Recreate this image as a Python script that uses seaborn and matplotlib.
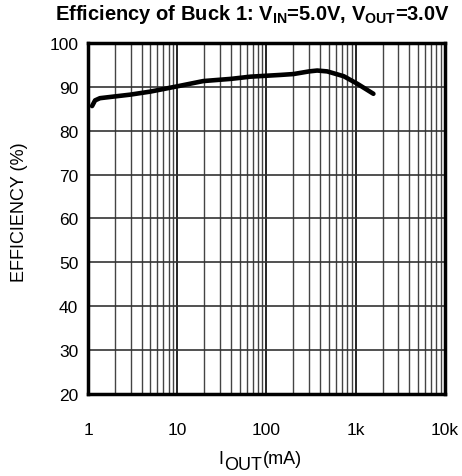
import numpy as np
import pandas as pd
import seaborn as sns
import matplotlib.pyplot as plt
from matplotlib.ticker import LogLocator, NullFormatter

# efficiency curve
iout = [1.11, 1.2, 1.36, 2.0, 2.96, 5.0, 10, 19.6, 40, 66, 144, 201, 300, 370, 480, 735, 1040, 1580]
eff = [85.6, 86.9, 87.4, 87.8, 88.2, 88.9, 90.1, 91.3, 91.8, 92.3, 92.7, 92.9, 93.5, 93.7, 93.5, 92.4, 90.7, 88.4]
xticks = [1, 10, 100, 1000, 10000]
xticklabels = ['1', '10', '100', '1k', '10k']
yticks = list(range(20, 101, 10))

df = pd.DataFrame({'iout': iout, 'eff': eff})

sns.set_style("white")
plt.rcParams['font.family'] = ['Liberation Sans', 'DejaVu Sans']
plt.rcParams['mathtext.fontset'] = 'custom'
plt.rcParams['mathtext.rm'] = 'Liberation Sans'
plt.rcParams['mathtext.bf'] = 'Liberation Sans:bold'
for k in ['text.color', 'axes.labelcolor', 'xtick.color', 'ytick.color']:
    plt.rcParams[k] = 'black'

fig = plt.figure(figsize=(4.62, 4.77), dpi=100)
ax = fig.add_axes([0.1905, 0.172, 0.7725, 0.736])

sns.lineplot(data=df, x='iout', y='eff', color='black', linewidth=3.3, ax=ax)
ax.set_xscale('log')
ax.set_xlim(1, 10000)
ax.set_ylim(20, 100)

ax.set_xticks(xticks)
ax.set_xticklabels(xticklabels)
ax.xaxis.set_minor_locator(LogLocator(base=10, subs=np.arange(2, 10)))
ax.xaxis.set_minor_formatter(NullFormatter())
ax.set_yticks(yticks)

ax.grid(which='major', axis='x', color='black', linewidth=1.2)
ax.grid(which='major', axis='y', color='#333333', linewidth=1.2)
ax.grid(which='minor', axis='x', color='#444444', linewidth=1)
ax.tick_params(which='both', length=0, labelsize=12.5)
ax.tick_params(axis='x', pad=20)
ax.tick_params(axis='y', pad=7)

for s in ax.spines.values():
    s.set_linewidth(2.5)
    s.set_color('black')

ax.set_xlabel('')
ax.set_ylabel('EFFICIENCY (%)', fontsize=13)
ax.yaxis.set_label_coords(-0.168, 0.52)

# x label: I, OUT dropped but same size, then (mA)
fig.text(218 / 462, 1 - 464 / 477, 'I', fontsize=13, va='baseline', ha='left')
fig.text(224 / 462, 1 - 470 / 477, 'OUT', fontsize=13, va='baseline', ha='left')
fig.text(263 / 462, 1 - 464 / 477, '(mA)', fontsize=13, va='baseline', ha='left')

fig.text(253 / 462, 1 - 14 / 477,
         r'Efficiency of Buck 1: V$_{\mathbf{IN}}$=5.0V, V$_{\mathbf{OUT}}$=3.0V',
         fontsize=14.5, fontweight='bold', ha='center', va='center')

fig.savefig('out.png', dpi=100)
